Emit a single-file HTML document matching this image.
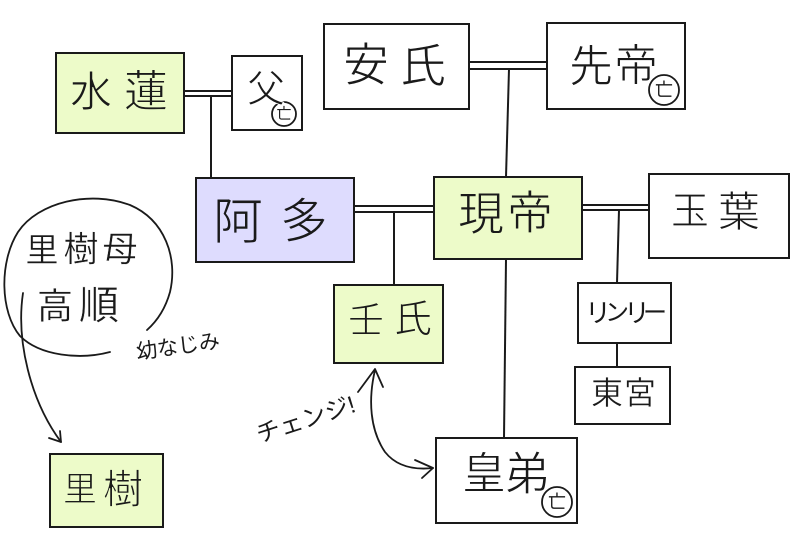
<!DOCTYPE html>
<html><head><meta charset="utf-8"><style>
html,body{margin:0;padding:0;background:#fff;}
svg{display:block;}
text{font-family:"Liberation Sans","Noto Sans CJK JP",sans-serif;fill:#1a1a1a;}
.w{stroke:#fff;stroke-width:0.9px;}
.g{stroke:#edfbc9;stroke-width:0.9px;}
.p{stroke:#dedcfe;stroke-width:0.9px;}
.s{stroke:#fff;stroke-width:0.4px;}
</style></head><body>
<svg width="800" height="549" viewBox="0 0 800 549" xmlns="http://www.w3.org/2000/svg">
<g fill="none" stroke="#1a1a1a" stroke-width="2">
<rect x="56" y="53" width="128" height="80" fill="#edfbc9"/>
<rect x="232" y="56" width="70" height="74" fill="#fff"/>
<rect x="324" y="24" width="145" height="85" fill="#fff"/>
<rect x="547" y="23" width="138" height="86" fill="#fff"/>
<rect x="196" y="178" width="158" height="84" fill="#dedcfe"/>
<rect x="434" y="177" width="148" height="82" fill="#edfbc9"/>
<rect x="649" y="174" width="140" height="84" fill="#fff"/>
<rect x="334" y="285" width="109" height="78" fill="#edfbc9"/>
<rect x="578" y="283" width="93" height="60" fill="#fff"/>
<rect x="575" y="367" width="95" height="57" fill="#fff"/>
<rect x="436" y="438" width="141" height="85" fill="#fff"/>
<rect x="50" y="454" width="113" height="73" fill="#edfbc9"/>
<line x1="184" y1="91" x2="232" y2="91"/>
<line x1="184" y1="96" x2="232" y2="96"/>
<line x1="211" y1="96" x2="211" y2="178"/>
<line x1="469" y1="62" x2="547" y2="62"/>
<line x1="469" y1="69" x2="547" y2="69"/>
<line x1="509" y1="69" x2="506" y2="177"/>
<line x1="354" y1="206" x2="434" y2="206"/>
<line x1="354" y1="212" x2="434" y2="212"/>
<line x1="394" y1="212" x2="394" y2="285"/>
<line x1="582" y1="205" x2="649" y2="205"/>
<line x1="582" y1="210" x2="649" y2="210"/>
<line x1="619" y1="210" x2="617" y2="283"/>
<line x1="617" y1="343" x2="617" y2="367"/>
<line x1="506" y1="259" x2="504" y2="438"/>
</g>
<g fill="none" stroke="#1a1a1a" stroke-width="1.8" stroke-linecap="round" stroke-linejoin="round">
<path d="M110,352 C80,360 40,356 20,336 C0,312 -1,262 18,232 C38,202 90,190 130,205 C165,220 178,258 170,292 C165,310 156,322 147,330"/>
<path d="M23,293 C16,340 30,400 61,442"/>
<path d="M49,438 L61,442 L60,431"/>
<path d="M375,370 C368,400 370,430 385,452 C397,467 415,470 433,468"/>
<path d="M358,392 L375,369 L383,387"/>
<path d="M415,460 L433,468 L422,478"/>
<circle cx="284" cy="114" r="12" fill="#fff"/>
<circle cx="664" cy="90" r="15" fill="#fff"/>
<circle cx="557" cy="502" r="15" fill="#fff"/>
</g>
<g text-anchor="middle" dominant-baseline="central">
<text class="g" x="91" y="92" font-size="42">水</text><text class="g" x="146" y="92" font-size="44">蓮</text>
<text class="w" x="266" y="90" font-size="38">父</text>
<text class="w" x="366" y="65" font-size="46">安</text><text class="w" x="423" y="66" font-size="46">氏</text>
<text class="w" x="591" y="67" font-size="44">先</text><text class="w" x="636" y="66" font-size="44">帝</text>
<text class="p" x="238" y="222" font-size="50">阿</text><text class="p" x="304" y="222" font-size="48">多</text>
<text class="g" x="481" y="214" font-size="46">現</text><text class="g" x="530" y="213" font-size="46">帝</text>
<text class="w" x="690" y="212" font-size="38">玉</text><text class="w" x="739" y="212" font-size="42">葉</text>
<text class="s" x="42" y="250" font-size="33">里</text><text class="s" x="81" y="250" font-size="35">樹</text><text class="s" x="120" y="250" font-size="35">母</text>
<text class="s" x="55" y="306" font-size="36">高</text><text class="s" x="99" y="306" font-size="40">順</text>
<text class="g" x="366" y="320" font-size="36">壬</text><text class="g" x="413" y="320" font-size="38">氏</text>
<text class="g" x="80" y="490" font-size="34">里</text><text class="g" x="123" y="490" font-size="40">樹</text>
<text class="s" x="607" y="393" font-size="32">東</text><text class="s" x="640" y="393" font-size="32">宮</text>
<text class="w" x="484" y="474" font-size="44">皇</text><text class="w" x="527" y="474" font-size="46">弟</text>
<text x="284" y="114" font-size="15">亡</text>
<text x="664" y="90" font-size="18">亡</text>
<text x="557" y="502" font-size="18">亡</text>
<text x="598" y="313" font-size="26">リ</text><text x="617" y="313" font-size="24">ン</text><text x="637" y="313" font-size="26">リ</text><text x="655" y="313" font-size="24">ー</text>
<text x="178" y="347" font-size="21" transform="rotate(-8 178 347)">幼なじみ</text>
<text x="306" y="420" font-size="24" transform="rotate(-18 306 420)">チェンジ!</text>
</g>
</svg>
</body></html>
